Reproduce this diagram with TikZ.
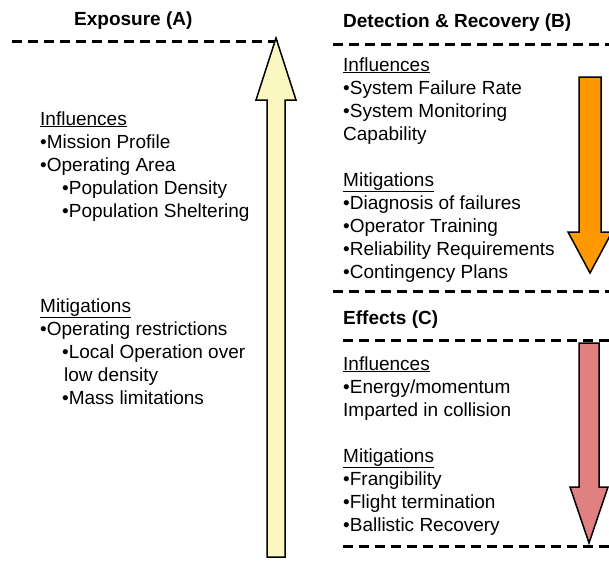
\documentclass[tikz,border=0pt]{standalone}
\usepackage{fontspec}
\setmainfont{Liberation Sans}
\usepackage{tikz}

\definecolor{paleyellow}{RGB}{250,248,192}
\definecolor{riskorange}{RGB}{255,153,0}
\definecolor{salmonred}{RGB}{224,128,128}

\tikzset{
  txt/.style={anchor=base west,inner sep=0pt,font=\fontsize{19}{23}\selectfont},
  head/.style={txt,font=\fontsize{19}{23}\selectfont\bfseries},
  sep/.style={line width=3pt,dash pattern=on 10pt off 6pt},
  blockarrow/.style={draw=black,line width=1.5pt,line join=miter}
}

\begin{document}
\begin{tikzpicture}[x=1pt,y=-1pt]
\useasboundingbox (0,0) rectangle (609,562);
% column A
\node[head] (titleA) at (74,25) {Exposure (A)};
\draw[sep] (12,41)--(283,41);
\draw[blockarrow,fill=paleyellow] (267,557)--(267,100)--(256,100)--(276,38)--(296,100)--(285,100)--(285,557)--cycle;
\node[txt] (inflA) at (40,125) {\underline{Influences}};
\node[txt] (a1) at (40,148) {•Mission Profile};
\node[txt] (a2) at (40,171) {•Operating Area};
\node[txt] (a3) at (62,194) {•Population Density};
\node[txt] (a4) at (62,217) {•Population Sheltering};
\node[txt] (mitA) at (40,312) {\underline{Mitigations}};
\node[txt] (a5) at (40,335) {•Operating restrictions};
\node[txt] (a6) at (62,358) {•Local Operation over};
\node[txt] (a7) at (64,381) {low density};
\node[txt] (a8) at (62,404) {•Mass limitations};
% column B
\node[head] (titleB) at (343,27) {Detection \& Recovery (B)};
\draw[sep] (333,44)--(609,44);
\draw[blockarrow,fill=riskorange] (579,77)--(579,232)--(568,232)--(590,273)--(612,232)--(601,232)--(601,77)--cycle;
\node[txt] (inflB) at (343,71) {\underline{Influences}};
\node[txt] (b1) at (343,94) {•System Failure Rate};
\node[txt] (b2) at (343,117) {•System Monitoring};
\node[txt] (b3) at (343,140) {Capability};
\node[txt] (mitB) at (343,186) {\underline{Mitigations}};
\node[txt] (b4) at (343,209) {•Diagnosis of failures};
\node[txt] (b5) at (343,232) {•Operator Training};
\node[txt] (b6) at (343,255) {•Reliability Requirements};
\node[txt] (b7) at (343,278) {•Contingency Plans};
\draw[sep] (333,291)--(609,291);
% column C
\node[head] (titleC) at (343,324) {Effects (C)};
\draw[sep] (343,340)--(609,340);
\draw[blockarrow,fill=salmonred] (579,343)--(579,487)--(570,487)--(589,543)--(608,487)--(599,487)--(599,343)--cycle;
\node[txt] (inflC) at (343,370) {\underline{Influences}};
\node[txt] (c1) at (343,393) {•Energy/momentum};
\node[txt] (c2) at (343,416) {Imparted in collision};
\node[txt] (mitC) at (343,462) {\underline{Mitigations}};
\node[txt] (c3) at (343,485) {•Frangibility};
\node[txt] (c4) at (343,508) {•Flight termination};
\node[txt] (c5) at (343,531) {•Ballistic Recovery};
\draw[sep] (343,546)--(609,546);
\end{tikzpicture}
\end{document}
